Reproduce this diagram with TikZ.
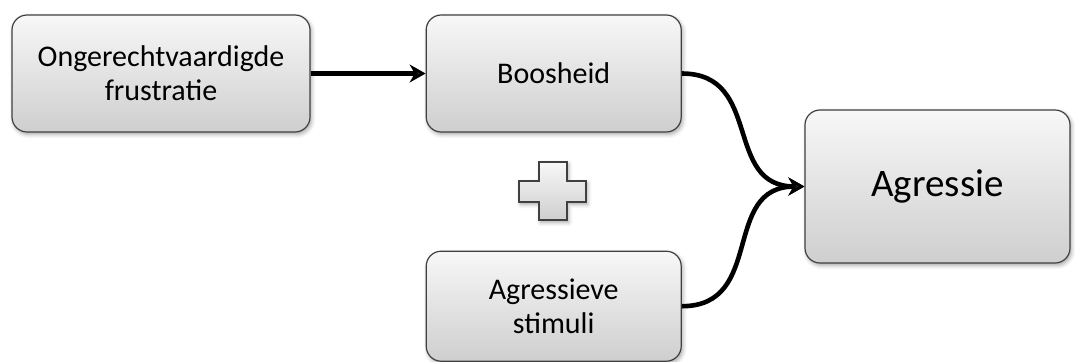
\documentclass[tikz,border=0pt]{standalone}
\usepackage{fontspec}
\setmainfont{Carlito}
\usetikzlibrary{positioning, arrows.meta, shadows.blur}

\begin{document}
\begin{tikzpicture}[x=0.5pt, y=-0.5pt,
    box/.style={
      rectangle,
      rounded corners=7.5pt,
      draw=black!75,
      line width=0.6pt,
      top color=black!3,
      bottom color=black!19,
      blur shadow={shadow xshift=0.8pt, shadow yshift=-1.2pt,
        shadow blur radius=2pt, shadow opacity=35},
      align=center,
      font=\fontsize{15}{17}\selectfont,
      inner sep=0pt
    },
    plussign/.style={
      draw=black!75,
      line width=0.6pt,
      top color=black!3,
      bottom color=black!19,
      blur shadow={shadow xshift=0.8pt, shadow yshift=-1.2pt,
        shadow blur radius=2pt, shadow opacity=35}
    },
    link/.style={line width=2.3pt},
    >={Stealth[length=8pt, width=9pt]}]
  \useasboundingbox (0,0) rectangle (1075,361);
  \node[box, minimum width=149pt, minimum height=58.5pt] (frust) at (161,73.5)
    {Ongerechtvaardigde\\frustratie};
  \node[box, minimum width=127.5pt, minimum height=58.5pt, right=57.5pt of frust] (boos)
    {Boosheid};
  \node[box, minimum width=127.5pt, minimum height=55pt, below=59pt of boos] (stim)
    {Agressieve\\stimuli};
  \node[box, minimum width=132.5pt, minimum height=76.5pt,
    font=\fontsize{19.5}{23}\selectfont] (agr) at (937.5,186.5) {Agressie};
  % plus sign between the two middle boxes
  \path[plussign] (539,162) -- (567,162) -- (567,181) -- (586,181) -- (586,202)
    -- (567,202) -- (567,220) -- (539,220) -- (539,202) -- (519,202)
    -- (519,181) -- (539,181) -- cycle;
  \draw[link, ->] (frust) -- (boos);
  \draw[link, ->] (boos.east) to[out=0, in=180, looseness=1.25] (agr.west);
  \draw[link, ->] (stim.east) to[out=0, in=180, looseness=1.25] (agr.west);
\end{tikzpicture}
\end{document}
